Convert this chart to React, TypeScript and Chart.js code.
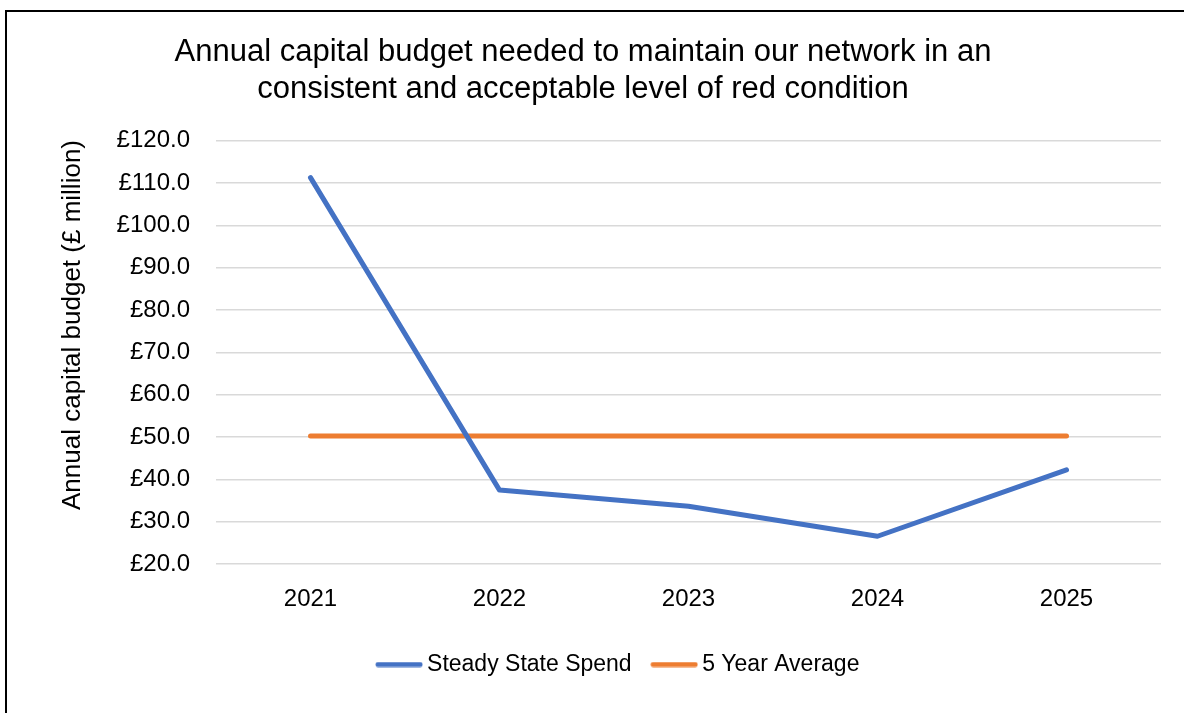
import React, { useEffect, useRef } from "react";
import { Chart, registerables } from "chart.js";

Chart.register(...registerables);

const years = ["2021", "2022", "2023", "2024", "2025"];
const steadyStateSpend = [111.3, 37.5, 33.7, 26.6, 42.3];
const fiveYearAverage = [50.3, 50.3, 50.3, 50.3, 50.3];
const titleLines = [
  "Annual capital budget needed to maintain our network in an",
  "consistent and acceptable level of red condition",
];
const yAxisTitle = "Annual capital budget (£ million)";
const seriesNames = ["Steady State Spend", "5 Year Average"];
const seriesColors = ["#4472C4", "#ED7D31"];

const FONT = "'Liberation Sans', Arial, sans-serif";

function makeLineSwatch(color: string): HTMLCanvasElement {
  const c = document.createElement("canvas");
  c.width = 48;
  c.height = 6;
  const ctx = c.getContext("2d");
  if (ctx) {
    ctx.strokeStyle = color;
    ctx.lineWidth = 5;
    ctx.lineCap = "round";
    ctx.beginPath();
    ctx.moveTo(3, 3);
    ctx.lineTo(45, 3);
    ctx.stroke();
  }
  return c;
}

const yTitlePlugin = {
  id: "yTitlePlugin",
  afterDraw(chart: any) {
    const ctx = chart.ctx;
    ctx.save();
    ctx.translate(73, 325);
    ctx.rotate(-Math.PI / 2);
    ctx.font = `26px ${FONT}`;
    ctx.fillStyle = "#000";
    ctx.textAlign = "center";
    ctx.textBaseline = "middle";
    ctx.fillText(yAxisTitle, 0, 0);
    ctx.restore();
  },
};

const legendShiftPlugin = {
  id: "legendShiftPlugin",
  afterLayout(chart: any) {
    const lg = chart.legend;
    if (lg) {
      lg.left += 38;
      lg.right += 38;
    }
  },
};

export default function App() {
  const ref = useRef<HTMLCanvasElement | null>(null);

  useEffect(() => {
    if (!ref.current) return;
    const swatches = seriesColors.map(makeLineSwatch);
    const chart = new Chart(ref.current, {
      type: "line",
      data: {
        labels: years,
        datasets: [
          {
            label: seriesNames[0],
            data: steadyStateSpend,
            borderColor: seriesColors[0],
            backgroundColor: seriesColors[0],
            borderWidth: 5,
            borderCapStyle: "round",
            borderJoinStyle: "round",
            pointRadius: 0,
            tension: 0,
          },
          {
            label: seriesNames[1],
            data: fiveYearAverage,
            borderColor: seriesColors[1],
            backgroundColor: seriesColors[1],
            borderWidth: 5,
            borderCapStyle: "round",
            borderJoinStyle: "round",
            pointRadius: 0,
            tension: 0,
          },
        ],
      },
      options: {
        animation: false,
        responsive: false,
        maintainAspectRatio: false,
        layout: { padding: { top: 34, left: 5, right: 23, bottom: 27 } },
        plugins: {
          title: {
            display: true,
            text: titleLines,
            color: "#000",
            font: { family: FONT, size: 31, weight: "normal", lineHeight: 1.19 },
            padding: { top: 0, bottom: 33 },
          },
          legend: {
            position: "bottom",
            labels: {
              color: "#000",
              font: { family: FONT, size: 23 },
              usePointStyle: true,
              pointStyleWidth: 33,
              padding: 26,
              generateLabels(chart: any) {
                const items = Chart.defaults.plugins.legend.labels.generateLabels(chart);
                items.forEach((it: any, i: number) => {
                  it.pointStyle = swatches[i % swatches.length];
                });
                return items;
              },
            },
          },
          tooltip: { enabled: false },
        },
        scales: {
          x: {
            offset: true,
            grid: { display: false },
            border: { display: false },
            ticks: {
              color: "#000",
              font: { family: FONT, size: 24 },
              padding: 13,
              maxRotation: 0,
            },
          },
          y: {
            min: 20,
            max: 120,
            grid: { color: "#d9d9d9", lineWidth: 1.5, drawTicks: false },
            border: { display: false },
            afterFit(scale: any) {
              scale.width = 211;
            },
            ticks: {
              stepSize: 10,
              color: "#000",
              font: { family: FONT, size: 24 },
              padding: 26,
              callback: (v: any) => "£" + Number(v).toFixed(1),
            },
          },
        },
      },
      plugins: [yTitlePlugin, legendShiftPlugin],
    });
    return () => chart.destroy();
  }, []);

  return (
    <div
      style={{
        position: "absolute",
        left: 0,
        top: 0,
        width: 1184,
        height: 713,
        overflow: "hidden",
        background: "#fff",
      }}
    >
      <div style={{ position: "absolute", left: 5, top: 10, width: 2, height: 703, background: "#000" }} />
      <div style={{ position: "absolute", left: 5, top: 10, width: 1179, height: 2, background: "#000" }} />
      <canvas
        ref={ref}
        width={1184}
        height={713}
        style={{ position: "absolute", left: 0, top: 0 }}
      />
    </div>
  );
}
